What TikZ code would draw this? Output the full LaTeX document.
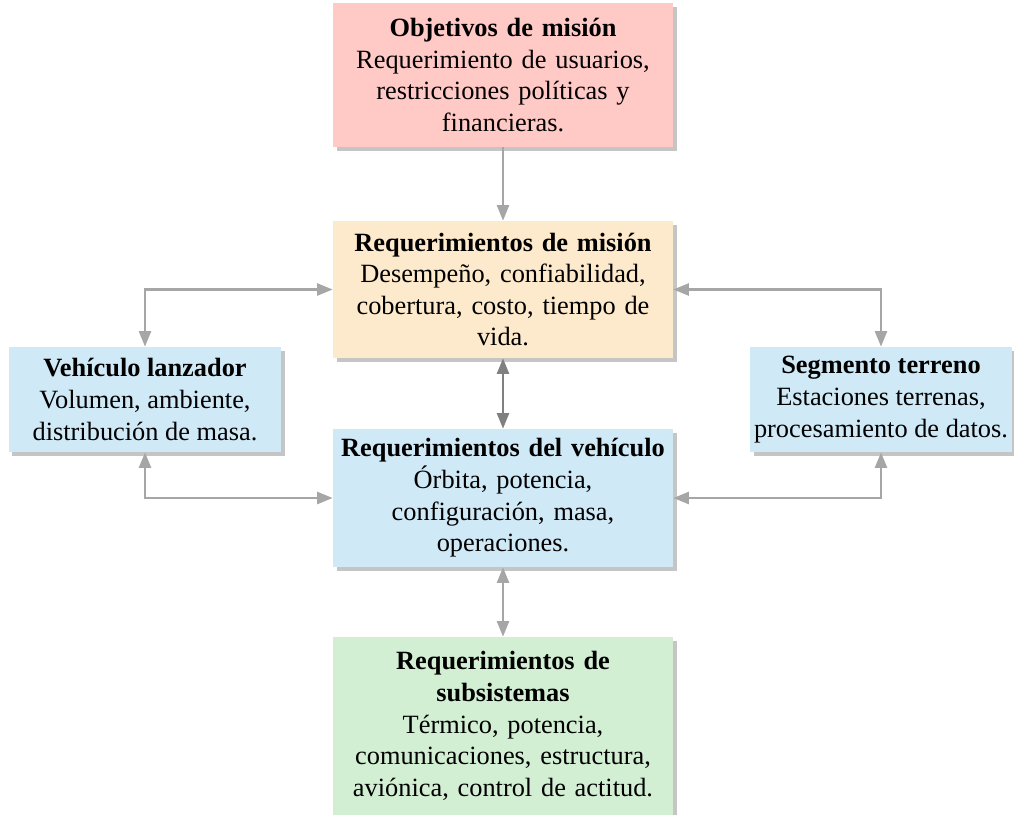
\documentclass[tikz,border=0pt]{standalone}
\usepackage{fontspec}
\setmainfont{Liberation Serif}
\usetikzlibrary{arrows.meta,shadows}
\definecolor{objpink}{HTML}{FFC9C5}
\definecolor{mispeach}{HTML}{FDE9CB}
\definecolor{vehblue}{HTML}{CFE9F6}
\definecolor{subgreen}{HTML}{D2EED3}
\definecolor{linkgray}{HTML}{A6A6A6}
\definecolor{darkgray}{HTML}{808080}
\begin{document}
\begin{tikzpicture}[
  caja/.style={draw=none, align=center, inner sep=2pt,
    font=\fontsize{15}{18}\selectfont,
    drop shadow={shadow xshift=0.7mm, shadow yshift=-0.7mm, fill=black!45}},
  central/.style={caja, minimum width=6.8cm, text width=6.6cm},
  lateral/.style={caja, fill=vehblue, minimum height=2.1cm},
  link/.style={draw=linkgray, line width=1.3pt, {Triangle[length=3.1mm,width=2.4mm]}-{Triangle[length=3.1mm,width=2.4mm]}},
  onelink/.style={draw=linkgray, line width=1.3pt, -{Triangle[length=3.1mm,width=2.4mm]}}
]
\useasboundingbox (0,0) rectangle (20.28,-16.3);
% cajas centrales
\node[central, fill=objpink, minimum height=2.88cm] (obj) at (10.06,-1.5)
  {\textbf{Objetivos de misión}\\ Requerimiento de usuarios,\\ restricciones políticas y\\ financieras.};
\node[central, fill=mispeach, minimum height=2.74cm] (mis) at (10.06,-5.79)
  {\textbf{Requerimientos de misión}\\ Desempeño, confiabilidad,\\ cobertura, costo, tiempo de\\ vida.};
\node[central, fill=vehblue, minimum height=2.76cm] (veh) at (10.06,-9.96)
  {\textbf{Requerimientos del vehículo}\\ Órbita, potencia,\\ configuración, masa,\\ operaciones.};
\node[central, fill=subgreen, minimum height=3.56cm] (sub) at (10.06,-14.52)
  {\textbf{Requerimientos de}\\ \textbf{subsistemas}\\ Térmico, potencia,\\ comunicaciones, estructura,\\ aviónica, control de actitud.};
% cajas laterales
\node[lateral, minimum width=5.44cm] (lan) at (2.9,-7.99)
  {\textbf{Vehículo lanzador}\\ Volumen, ambiente,\\ distribución de masa.};
\node[lateral, minimum width=5.24cm] (seg) at (17.62,-7.99)
  {\textbf{Segmento terreno}\\ Estaciones terrenas,\\ procesamiento de datos.};
% conexiones
\draw[onelink] (obj) -- (mis);
\draw[link, draw=darkgray] (mis) -- (veh);
\draw[link] (veh) -- (sub);
\draw[link] (lan.north) |- (mis.west);
\draw[link] (lan.south) |- (veh.west);
\draw[link] (seg.north) |- (mis.east);
\draw[link] (seg.south) |- (veh.east);
\end{tikzpicture}
\end{document}
